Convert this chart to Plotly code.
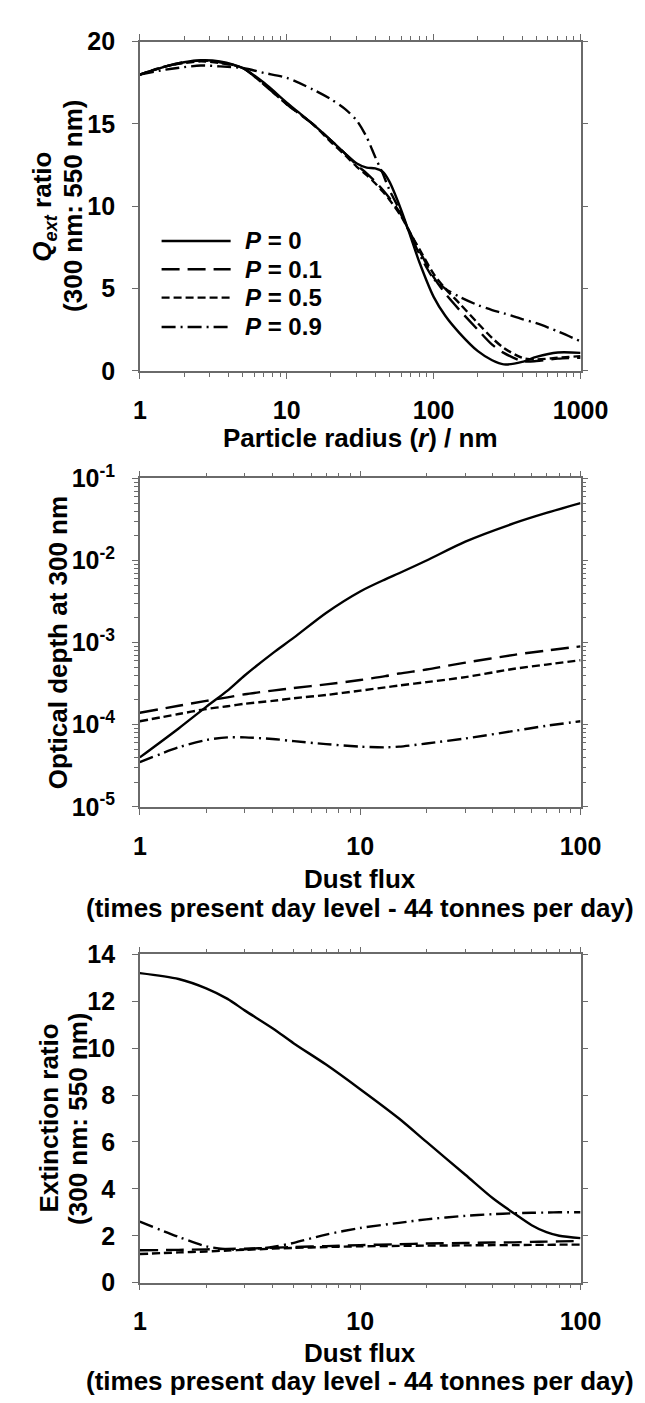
import plotly.graph_objects as go

W, H = 645, 1403

# ---------------- data ----------------
radius = [1, 1.5, 2, 2.6, 3.5, 5, 7, 10, 15, 20, 25, 30, 35, 40, 45, 50, 60, 70, 80,
          100, 120, 150, 200, 250, 300, 400, 500, 700, 1000]
qext_p0 = [18.0, 18.5, 18.75, 18.87, 18.8, 18.4, 17.5, 16.3, 15.0, 14.0, 13.2, 12.6, 12.35,
           12.3, 12.1, 11.5, 9.8, 8.1, 6.6, 4.5, 3.35, 2.3, 1.2, 0.65, 0.4, 0.55, 0.85, 1.12, 1.1]
qext_p01 = [18.0, 18.5, 18.75, 18.85, 18.75, 18.4, 17.4, 16.2, 15.0, 14.0, 13.2, 12.5, 12.0,
            11.5, 11.0, 10.5, 9.5, 8.3, 7.3, 5.7, 4.7, 3.7, 2.5, 1.6, 1.1, 0.6, 0.6, 0.75, 0.8]
qext_p05 = [18.0, 18.5, 18.7, 18.8, 18.7, 18.4, 17.4, 16.2, 15.0, 13.9, 13.1, 12.4, 11.9,
            11.4, 10.9, 10.4, 9.4, 8.3, 7.4, 5.9, 5.0, 4.1, 2.9, 2.0, 1.4, 0.8, 0.7, 0.8, 0.9]
qext_p09 = [18.0, 18.3, 18.45, 18.55, 18.5, 18.4, 18.1, 17.8, 17.1, 16.5, 15.9, 15.2, 14.2,
            13.0, 12.0, 11.0, 9.6, 8.2, 7.1, 5.6, 5.0, 4.5, 4.0, 3.7, 3.5, 3.15, 2.9, 2.4, 1.8]

flux_od = [1, 1.5, 2, 2.5, 3, 4, 5, 7, 10, 13, 15, 20, 30, 50, 70, 100]
od_p0 = [4.0e-5, 9.0e-5, 1.65e-4, 2.6e-4, 4.0e-4, 7.4e-4, 1.15e-3, 2.3e-3, 4.2e-3, 5.9e-3,
         7.0e-3, 1.0e-2, 1.7e-2, 2.85e-2, 3.8e-2, 5.0e-2]
od_p01 = [1.4e-4, 1.7e-4, 1.95e-4, 2.15e-4, 2.35e-4, 2.6e-4, 2.8e-4, 3.1e-4, 3.5e-4, 3.9e-4,
          4.2e-4, 4.7e-4, 5.7e-4, 7.1e-4, 8.0e-4, 9.0e-4]
od_p05 = [1.1e-4, 1.35e-4, 1.55e-4, 1.68e-4, 1.8e-4, 1.95e-4, 2.1e-4, 2.3e-4, 2.6e-4, 2.85e-4,
          3.0e-4, 3.3e-4, 3.8e-4, 4.8e-4, 5.4e-4, 6.1e-4]
od_p09 = [3.5e-5, 5.3e-5, 6.5e-5, 7.0e-5, 7.0e-5, 6.7e-5, 6.3e-5, 5.8e-5, 5.4e-5, 5.3e-5,
          5.4e-5, 5.9e-5, 6.8e-5, 8.4e-5, 9.7e-5, 1.1e-4]

flux_er = [1, 1.5, 2, 2.5, 3, 4, 5, 7, 10, 15, 20, 30, 40, 50, 60, 70, 80, 100]
er_p0 = [13.2, 12.95, 12.55, 12.1, 11.6, 10.85, 10.2, 9.3, 8.25, 7.0, 6.0, 4.6, 3.6, 2.95, 2.45,
         2.15, 2.0, 1.9]
er_p01 = [1.38, 1.4, 1.42, 1.44, 1.45, 1.49, 1.52, 1.56, 1.6, 1.64, 1.67, 1.69, 1.71, 1.72,
          1.74, 1.75, 1.76, 1.78]
er_p05 = [1.22, 1.29, 1.33, 1.37, 1.4, 1.45, 1.48, 1.52, 1.55, 1.57, 1.58, 1.59, 1.6, 1.6,
          1.61, 1.61, 1.62, 1.62]
er_p09 = [2.6, 1.95, 1.55, 1.42, 1.42, 1.52, 1.7, 2.05, 2.33, 2.55, 2.7, 2.85, 2.92, 2.96,
          2.98, 2.99, 3.0, 3.0]

legend_labels = ["<b><i>P</i> = 0</b>", "<b><i>P</i> = 0.1</b>",
                 "<b><i>P</i> = 0.5</b>", "<b><i>P</i> = 0.9</b>"]

qext_ticks = [0, 5, 10, 15, 20]
od_tickvals = [1e-5, 1e-4, 1e-3, 1e-2, 1e-1]
od_ticktext = ["10<sup>-5</sup>", "10<sup>-4</sup>", "10<sup>-3</sup>",
               "10<sup>-2</sup>", "10<sup>-1</sup>"]
er_ticks = [0, 2, 4, 6, 8, 10, 12, 14]

# ---------------- styling ----------------
FONT = "Liberation Sans"
AXC = "#6a6a6a"
DASHES = ["solid", "18px,8px", "8px,4px", "14px,5px,2px,5px"]
LW = 2.4
TITLE_SIZE = 26
TICK_SIZE = 25


def py(y):  # pixel y (from top) to paper
    return 1 - y / H


def px(x):
    return x / W


XL, XR = 132, 598
panels = [(16, 353), (463, 799), (950, 1286)]

fig = go.Figure()

series = [
    (radius, [qext_p0, qext_p01, qext_p05, qext_p09], "x", "y"),
    (flux_od, [od_p0, od_p01, od_p05, od_p09], "x2", "y2"),
    (flux_er, [er_p0, er_p01, er_p05, er_p09], "x3", "y3"),
]
for xs, ys_list, xa, ya in series:
    for ys, dash in zip(ys_list, DASHES):
        fig.add_trace(go.Scatter(x=xs, y=ys, xaxis=xa, yaxis=ya, mode="lines",
                                 line=dict(color="black", width=LW, dash=dash,
                                           shape="spline", smoothing=0.8),
                                 showlegend=False, hoverinfo="skip"))


def minor_log(lo, hi):
    vals = []
    for e in range(lo, hi):
        for d in range(2, 10):
            vals.append(d * 10 ** e)
    return vals


tickfont = dict(family=FONT, size=TICK_SIZE, color="black", weight="bold")
common = dict(showline=True, linecolor=AXC, linewidth=1.5, mirror="ticks",
              ticks="outside", ticklen=6, tickwidth=1.3, tickcolor=AXC,
              showgrid=False, zeroline=False, tickfont=tickfont)
xcommon = dict(common, ticklabelstandoff=10)
ycommon = dict(common, ticklabelstandoff=12)
minor_style = dict(tickmode="array", ticks="outside", ticklen=4, tickcolor=AXC, tickwidth=1.2)

xdom = [px(XL), px(XR)]
lay = {}
# Panel 1
lay["xaxis"] = dict(xcommon, domain=xdom, anchor="y", type="log", range=[0, 3],
                    tickmode="array", tickvals=[1, 10, 100, 1000],
                    ticktext=["1", "10", "100", "1000"],
                    minor=dict(minor_style, tickvals=minor_log(0, 3)))
lay["yaxis"] = dict(ycommon, domain=[py(panels[0][1]), py(panels[0][0])], anchor="x",
                    range=[0, 20], tickmode="array", tickvals=qext_ticks)
# Panel 2
lay["xaxis2"] = dict(xcommon, domain=xdom, anchor="y2", type="log", range=[0, 2],
                     tickmode="array", tickvals=[1, 10, 100], ticktext=["1", "10", "100"],
                     minor=dict(minor_style, tickvals=minor_log(0, 2)))
lay["yaxis2"] = dict(ycommon, domain=[py(panels[1][1]), py(panels[1][0])], anchor="x2",
                     type="log", range=[-5, -1], tickmode="array", tickvals=od_tickvals,
                     ticktext=od_ticktext,
                     minor=dict(minor_style, tickvals=minor_log(-5, -1)))
# Panel 3
lay["xaxis3"] = dict(xcommon, domain=xdom, anchor="y3", type="log", range=[0, 2],
                     tickmode="array", tickvals=[1, 10, 100], ticktext=["1", "10", "100"],
                     minor=dict(minor_style, tickvals=minor_log(0, 2)))
lay["yaxis3"] = dict(ycommon, domain=[py(panels[2][1]), py(panels[2][0])], anchor="x3",
                     range=[0, 14], tickmode="array", tickvals=er_ticks)

annotations = []
shapes = []


def text(x, y, s, angle=0, size=TITLE_SIZE, xanchor="center"):
    annotations.append(dict(x=px(x), y=py(y), xref="paper", yref="paper", text=s,
                            showarrow=False, textangle=angle, xanchor=xanchor,
                            yanchor="middle", font=dict(family=FONT, size=size,
                                                        color="black")))


cx = (XL + XR) / 2
# x titles
text(cx, 422, "<b>Particle radius (<i>r</i>) / nm</b>")
text(cx, 873, "<b>Dust flux</b>")
text(cx, 903, "<b>(times present day level - 44 tonnes per day)</b>")
text(cx, 1358, "<b>Dust flux</b>")
text(cx, 1387, "<b>(times present day level - 44 tonnes per day)</b>")
# y titles
c1 = (panels[0][0] + panels[0][1]) / 2
text(30, c1, "<b><i>Q<sub>ext</sub></i> ratio</b>", angle=-90)
text(62, c1, "<b>(300 nm: 550 nm)</b>", angle=-90)
c2 = (panels[1][0] + panels[1][1]) / 2
text(45, c2, "<b>Optical depth at 300 nm</b>", angle=-90)
c3 = (panels[2][0] + panels[2][1]) / 2
text(35, c3, "<b>Extinction ratio</b>", angle=-90)
text(66, c3, "<b>(300 nm: 550 nm)</b>", angle=-90)

# custom legend in panel 1
leg_rows = [220, 249, 278, 308]
for lab, dash, yy in zip(legend_labels, DASHES, leg_rows):
    shapes.append(dict(type="line", xref="paper", yref="paper", x0=px(155), x1=px(228),
                       y0=py(yy), y1=py(yy), line=dict(color="black", width=LW, dash=dash)))
    text(241, yy, lab, size=24, xanchor="left")

lay["annotations"] = annotations
lay["shapes"] = shapes
fig.update_layout(**lay)
fig.update_layout(width=W, height=H, margin=dict(l=0, r=0, t=0, b=0),
                  paper_bgcolor="white", plot_bgcolor="white",
                  font=dict(family=FONT, color="black"))

fig.write_html("out.html")
